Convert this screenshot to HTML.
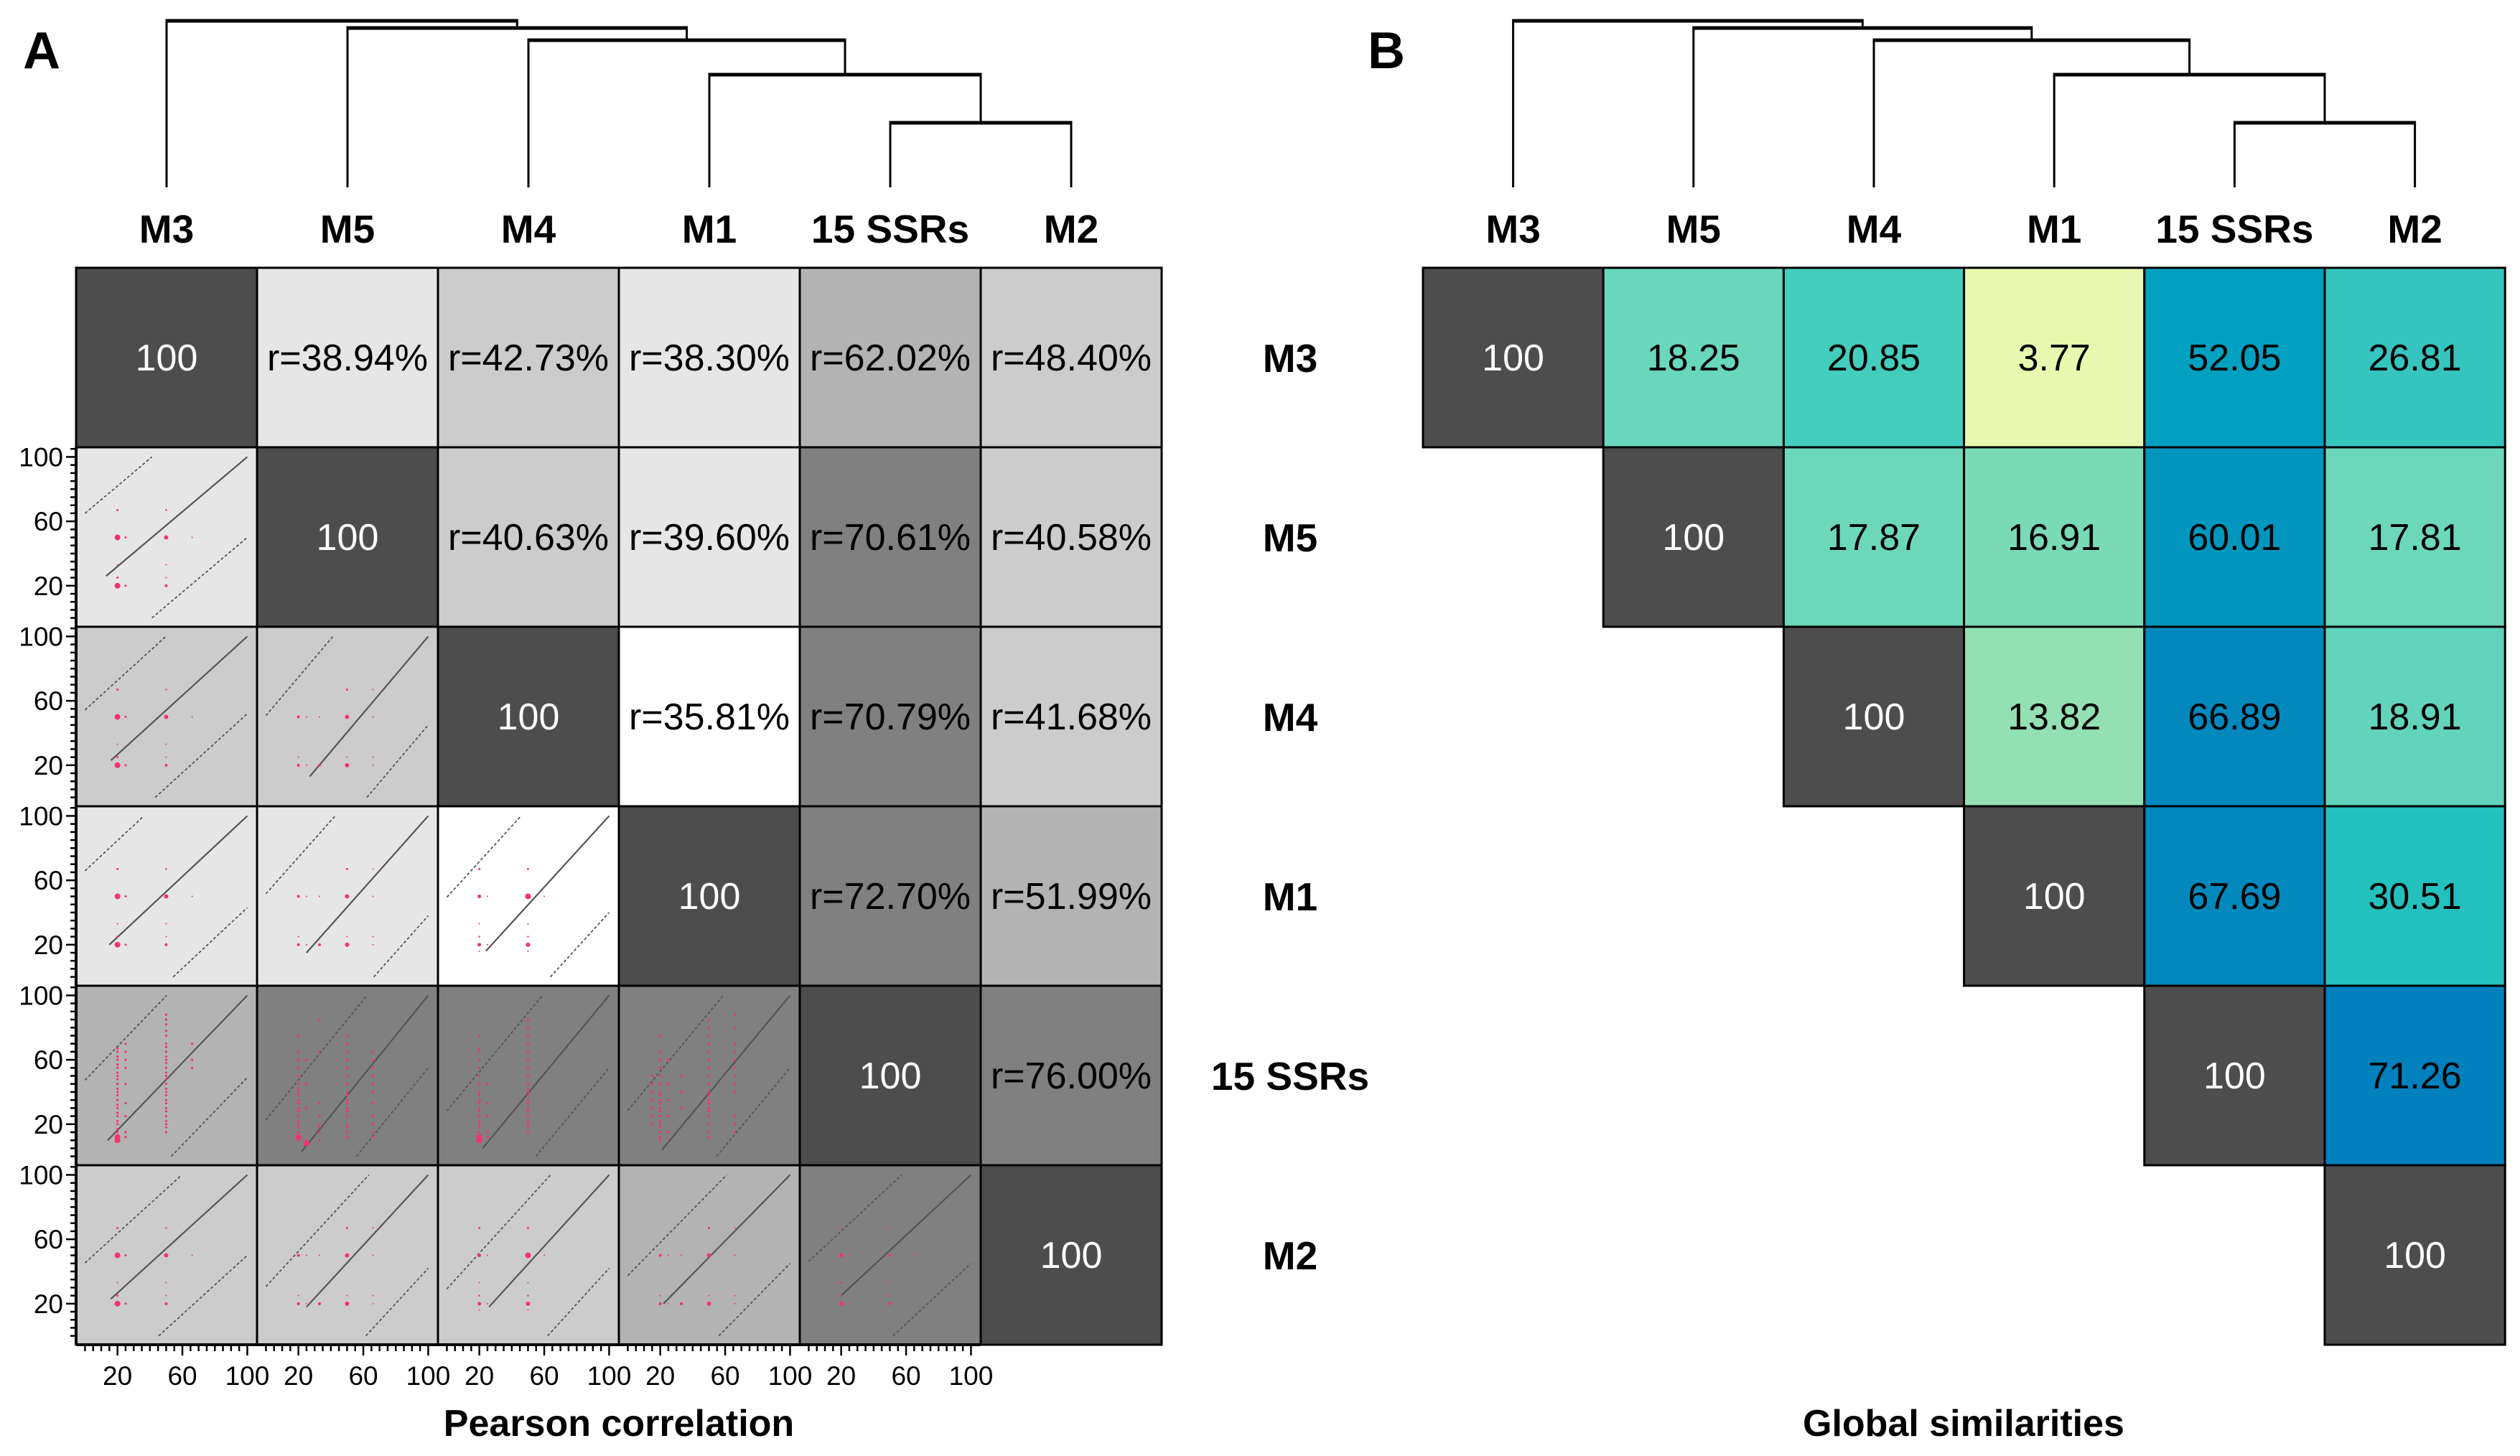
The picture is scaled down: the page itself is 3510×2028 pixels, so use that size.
<!DOCTYPE html>
<html><head><meta charset="utf-8">
<style>
html,body{margin:0;padding:0;background:#fff;}
svg{display:block;font-family:"Liberation Sans",Arial,sans-serif;}
</style></head>
<body>
<svg id="fig" xmlns="http://www.w3.org/2000/svg" width="3510" height="2028" viewBox="0 0 3510 2028">
<rect x="0" y="0" width="3510" height="2028" fill="#fff"/>
<text x="32" y="95" font-size="72" font-weight="bold">A</text>
<text x="1905" y="95" font-size="72" font-weight="bold">B</text>
<text x="862" y="2000" font-size="52" font-weight="bold" text-anchor="middle">Pearson correlation</text>
<text x="2735" y="2000" font-size="52" font-weight="bold" text-anchor="middle">Global similarities</text>
</svg>
<script>
// ---------- data ----------
const labels = ["M3","M5","M4","M1","15 SSRs","M2"];
const pearson = [
 [100,38.94,42.73,38.30,62.02,48.40],
 [38.94,100,40.63,39.60,70.61,40.58],
 [42.73,40.63,100,35.81,70.79,41.68],
 [38.30,39.60,35.81,100,72.70,51.99],
 [62.02,70.61,70.79,72.70,100,76.00],
 [48.40,40.58,41.68,51.99,76.00,100]
];
const globalSim = [
 [100,18.25,20.85,3.77,52.05,26.81],
 [null,100,17.87,16.91,60.01,17.81],
 [null,null,100,13.82,66.89,18.91],
 [null,null,null,100,67.69,30.51],
 [null,null,null,null,100,71.26],
 [null,null,null,null,null,100]
];
// dendrogram merges: [leftNodeCenterIndex, rightNodeCenterIndex, height(px from top)]
const mergeHeights = [171,104,56,39,29]; // (SSR,M2),(M1,..),(M4,..),(M5,..),(M3,..)
const tickVals = [20,60,100];
// regression lines per lower cell: [x0,y0,x1,y1,upperOffset,lowerOffset]
const lines = {
 "1,0":[13,26,100,100,50,50],
 "2,0":[16,23,100,100,46,48],
 "2,1":[27,13,100,100,70,55],
 "3,0":[15,20,100,100,60,57],
 "3,1":[25,15,100,100,65,62],
 "3,2":[24,16,100,100,60,60],
 "4,0":[14,10,100,100,52,51],
 "4,1":[22,3,100,100,47,45],
 "4,2":[22,5,100,100,50,45],
 "4,3":[21,4,100,100,50,45],
 "5,0":[16,23,100,100,37,50],
 "5,1":[25,18,100,100,40,58],
 "5,2":[26,18,100,100,40,58],
 "5,3":[22,20,100,100,40,55],
 "5,4":[20,25,100,100,40,55]
};
// points [x,y,r]
const ptsA = [[20,50,4],[25,50,1.5],[20,20,4],[25,20,1.5],[20,67,1.5],[20,25,1.5],[20,33,1],[50,50,3],[50,67,1.2],[50,20,2],[50,25,1],[50,33,1],[66,50,1]];
const ptsB = [[20,50,2],[25,50,1],[33,50,1],[50,50,3],[66,50,1],[20,20,2],[25,20,1],[33,20,2],[50,20,3],[66,20,1],[20,25,1],[50,25,1],[66,25,1],[50,67,1.5],[66,67,1]];
const ptsC = [[20,50,2.5],[25,50,1],[50,50,4],[60,50,1],[20,67,1.5],[50,67,1.5],[20,20,2.5],[25,20,1],[50,20,3],[20,25,1.2],[50,25,1.2],[20,33,1],[50,33,1],[20,16,1],[50,16,1]];
const pts = {
 "1,0":ptsA,"2,0":ptsA,"3,0":ptsA,"5,0":ptsA,
 "1,1":[],"2,1":ptsB,"3,1":ptsB,"5,1":ptsB,
 "3,2":ptsC,"5,2":ptsC,"5,3":ptsB,
 "5,4":[[20,50,3],[25,50,1],[50,50,2],[66,50,1],[20,67,1.2],[50,67,1.2],[20,20,3],[25,20,1],[50,20,2],[20,25,1.5],[50,25,1.2],[20,33,1.5],[50,33,1.2]]
};
// SSR row columns: [x, yValues, bigYs]
const ssrCols = {
 "4,0":[[20,[10,12,15,17,20,22,25,27,30,32,35,38,40,42,45,48,50,52,55,57,60,62,65,67],[10,12]],[25,[12,15,25,33,45,55,60,65,70],[]],[50,[15,18,20,22,25,28,30,33,35,38,40,42,45,48,50,52,55,58,60,62,65,68,70,75,78,82,85,88],[]],[66,[55,60,70],[]]],
 "4,1":[[20,[10,12,15,18,20,22,25,28,30,33,35,38,40,42,45,50,55,60,65,75],[12]],[25,[8,10,30,45,60],[8]],[33,[10,15,18,20,25,33,65,85],[]],[50,[12,15,18,20,25,28,30,33,35,38,40,45,50,55,60,65,70,75],[]],[66,[12,15,20,25,33,40,45,50,55,60,65],[]]],
 "4,2":[[20,[10,12,15,18,20,22,25,28,30,33,35,38,40,45,50,55,60,65,67,75],[10,12]],[25,[12,15,25,33,45],[]],[50,[15,18,20,22,25,28,30,33,35,38,40,42,45,50,55,60,65,70,75,80,85],[]]],
 "4,3":[[15,[20,25,30,35,40,45,50],[]],[20,[10,12,15,18,20,22,25,28,30,33,35,38,40,45,50,55,60,65,75],[]],[25,[15,25,35,45,60],[]],[33,[30,40,50],[]],[50,[12,15,20,25,28,30,33,35,38,40,45,50,55,60,65,70,75,80,85],[]],[66,[15,20,25,40,45,50,55,60,65,70,80,88],[]]]
};

// ---------- geometry ----------
const svg = document.getElementById('fig');
const NS = "http://www.w3.org/2000/svg";
const A = {left:106, top:373, cw:252, ch:250};
const B = {left:1982, top:373, cw:251.2, ch:250};
const dmin = -5.5, dmax = 106;
function el(tag, attrs, parent){ const e=document.createElementNS(NS,tag); for(const k in attrs) e.setAttribute(k,attrs[k]); (parent||svg).appendChild(e); return e; }
function greyFor(r){ if(r>=100) return "#4d4d4d"; if(r>=70) return "#808080"; if(r>=50) return "#b3b3b3"; if(r>=40) return "#cccccc"; if(r>=36) return "#e6e6e6"; return "#ffffff"; }
const simColors = {"18.25":"#69d7bb","20.85":"#43cdbd","3.77":"#e8f8ae","52.05":"#02a0c0","26.81":"#36c4bf","17.87":"#6dd8b9","16.91":"#7ad9b6","60.01":"#0296be","17.81":"#6dd7ba","13.82":"#93e0b3","66.89":"#0288bd","18.91":"#62d4bb","67.69":"#0288bd","30.51":"#24c0be","71.26":"#0080bd"};
function simColor(v){ if(v>=100) return "#4d4d4d"; return simColors[v.toFixed(2)] || "#43cdbd"; }

// dendrogram
function dendro(g, left, cw){
  const cx = i => left + cw/2 + cw*i;
  const leafBottom = 261;
  // node tops
  const lw = 3;
  const d = [];
  // merge 1: SSR(4) & M2(5)
  const h = mergeHeights;
  let nodes = [{x:cx(4),y:h[0]},{x:cx(5),y:h[0]}];
  function vline(x,y1,y2){ const l=el('line',{x1:x,y1:y1,x2:x,y2:y2,stroke:'#000','stroke-width':lw},g);   }
  function hline(x1,x2,y){ const l=el('line',{x1:x1-1.5,y1:y,x2:x2+1.5,y2:y,stroke:'#000','stroke-width':5},g);   }
  // leaves 4 & 5
  vline(cx(4),h[0],leafBottom); vline(cx(5),h[0],leafBottom); hline(cx(4),cx(5),h[0]);
  let mid = (cx(4)+cx(5))/2, midY = h[0];
  for(let k=1;k<5;k++){
    const leaf = 4-k;
    vline(cx(leaf),h[k],leafBottom);
    vline(mid,h[k],midY);
    hline(cx(leaf),mid,h[k]);
    mid = (cx(leaf)+mid)/2; midY = h[k];
  }
}
const gDA = el('g',{});   dendro(gDA, A.left, A.cw);
const gDB = el('g',{});   dendro(gDB, B.left, B.cw);

// column labels
labels.forEach((lab,i)=>{
  const t1 = el('text',{x:A.left+A.cw/2+A.cw*i,y:338,'font-size':55,'font-weight':'bold','text-anchor':'middle'});
  t1.textContent = lab;
  
  
  const t2 = el('text',{x:B.left+B.cw/2+B.cw*i,y:338,'font-size':55,'font-weight':'bold','text-anchor':'middle'});
  t2.textContent = lab;
  
  
  const t3 = el('text',{x:1797,y:B.top+B.ch/2+B.ch*i+20,'font-size':55,'font-weight':'bold','text-anchor':'middle'});
  t3.textContent = lab;
  
  
});

// Panel A cells
const gA = el('g',{});  
for(let r=0;r<6;r++){
  for(let c=0;c<6;c++){
    const x=A.left+A.cw*c, y=A.top+A.ch*r;
    const rect = el('rect',{x:x,y:y,width:A.cw,height:A.ch,fill:greyFor(pearson[r][c]),stroke:'#000','stroke-width':3},gA);
    
    
    if(c>=r){
      const t = el('text',{x:x+A.cw/2,y:y+A.ch/2+18,'font-size':52,'text-anchor':'middle',fill:(r===c?'#fff':'#000')},gA);
      t.textContent = r===c ? '100' : 'r='+pearson[r][c].toFixed(2)+'%';
      
      
    } else {
      const sx = v => x + (v-dmin)/(dmax-dmin)*A.cw;
      const sy = v => y + A.ch - (v-dmin)/(dmax-dmin)*A.ch;
      const key = r+','+c;
      const L = lines[key];
      if(L){
        const slope=(L[3]-L[1])/(L[2]-L[0]);
        const f = (xx,off)=>L[1]+slope*(xx-L[0])+off;
        const solid = el('line',{x1:sx(L[0]),y1:sy(L[1]),x2:sx(L[2]),y2:sy(L[3]),stroke:'#555','stroke-width':2.2},gA);
        
        
        // upper dashed: from x=0 to where y=100
        const xu1 = Math.max(0,L[0]+( (0-L[1]-L[4])/slope ));
        const xu2 = Math.min(100,L[0]+((100-L[1]-L[4])/slope));
        const up = el('line',{x1:sx(xu1),y1:sy(f(xu1,L[4])),x2:sx(xu2),y2:sy(f(xu2,L[4])),stroke:'#555','stroke-width':1.8,'stroke-dasharray':'4 3'},gA);
        
        
        const xl1 = Math.max(0,L[0]+((0-L[1]+L[5])/slope));
        const xl2 = Math.min(100,L[0]+((100-L[1]+L[5])/slope));
        const lo = el('line',{x1:sx(xl1),y1:sy(f(xl1,-L[5])),x2:sx(xl2),y2:sy(f(xl2,-L[5])),stroke:'#555','stroke-width':1.8,'stroke-dasharray':'4 3'},gA);
        
        
      }
      (pts[key]||[]).forEach(p=>{
        const d = el('circle',{cx:sx(p[0]),cy:sy(p[1]),r:p[2],fill:'#f5336e'},gA);
        
        
      });
      (ssrCols[key]||[]).forEach(col=>{
        col[1].forEach(yv=>{
          const d = el('circle',{cx:sx(col[0]),cy:sy(yv),r:(col[2].indexOf(yv)>=0?4:1.6),fill:'#f5336e'},gA);
          
          
        });
      });
    }
  }
}
// axes for A
const gAx = el('g',{});  
const bottomY = A.top+A.ch*6;
el('line',{x1:A.left,y1:A.top+A.ch,x2:A.left,y2:bottomY,stroke:'#000','stroke-width':4},gAx);
el('line',{x1:A.left,y1:bottomY,x2:A.left+A.cw*5,y2:bottomY,stroke:'#000','stroke-width':4},gAx);
for(let r=1;r<6;r++){
  const y=A.top+A.ch*r;
  const sy = v => y + A.ch - (v-dmin)/(dmax-dmin)*A.ch;
  for(let v=0; v<=105; v+=5){
    const major = tickVals.indexOf(v)>=0;
    el('line',{x1:A.left-(major?14:8),y1:sy(v),x2:A.left,y2:sy(v),stroke:'#000','stroke-width':2.5},gAx);
  }
  tickVals.forEach(v=>{
    const t = el('text',{x:A.left-18,y:sy(v)+13,'font-size':37,'text-anchor':'end'},gAx);
    t.textContent = v;
    
    
  });
}
for(let c=0;c<5;c++){
  const x=A.left+A.cw*c;
  const sx = v => x + (v-dmin)/(dmax-dmin)*A.cw;
  for(let v=0; v<=100; v+=5){
    const major = tickVals.indexOf(v)>=0;
    el('line',{x1:sx(v),y1:bottomY,x2:sx(v),y2:bottomY+(major?15:9),stroke:'#000','stroke-width':2.5},gAx);
  }
  tickVals.forEach(v=>{
    const t = el('text',{x:sx(v),y:bottomY+56,'font-size':37,'text-anchor':'middle'},gAx);
    t.textContent = v;
    
    
  });
}

// Panel B
const gB = el('g',{});  
for(let r=0;r<6;r++){
  for(let c=r;c<6;c++){
    const v = globalSim[r][c];
    const x=B.left+B.cw*c, y=B.top+B.ch*r;
    const rect = el('rect',{x:x,y:y,width:B.cw,height:B.ch,fill:simColor(v),stroke:'#000','stroke-width':3},gB);
    
    
    const t = el('text',{x:x+B.cw/2,y:y+B.ch/2+18,'font-size':52,'text-anchor':'middle',fill:(r===c?'#fff':'#000')},gB);
    t.textContent = r===c ? '100' : v.toFixed(2);
    
    
  }
}
</script>
</body></html>
